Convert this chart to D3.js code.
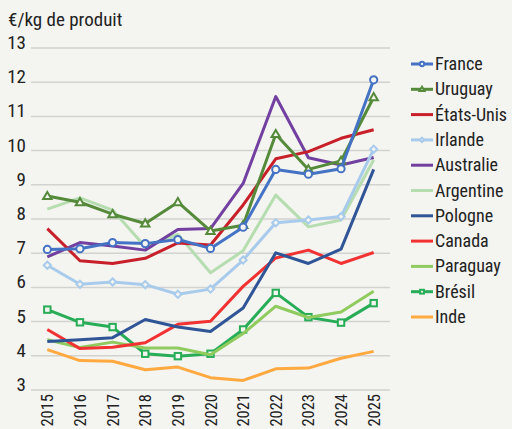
<!DOCTYPE html>
<html><head><meta charset="utf-8">
<script src="https://cdn.jsdelivr.net/npm/d3@7"></script>
<style>
html,body{margin:0;padding:0;background:#f4f4f0;}
svg{display:block;font-family:"Liberation Sans Narrow","Roboto Condensed","Arial Narrow",sans-serif;font-stretch:condensed;}
</style></head>
<body><svg id="c" width="512" height="429"></svg>
<script>
const years = ["2015","2016","2017","2018","2019","2020","2021","2022","2023","2024","2025"];
const yTicks = [3,4,5,6,7,8,9,10,11,12,13];
const unitLabel = "€/kg de produit";
const countries = ["France","Uruguay","États-Unis","Irlande","Australie","Argentine","Pologne","Canada","Paraguay","Brésil","Inde"];
const france    = [7.11,7.13,7.31,7.28,7.40,7.14,7.76,9.45,9.31,9.47,12.07];
const uruguay   = [8.67,8.49,8.14,7.87,8.49,7.65,7.82,10.48,9.45,9.70,11.56];
const etatsUnis = [7.72,6.78,6.70,6.85,7.30,7.24,8.41,9.76,9.97,10.36,10.61];
const irlande   = [6.65,6.09,6.16,6.08,5.80,5.95,6.80,7.89,7.97,8.07,10.04];
const australie = [6.89,7.31,7.21,7.09,7.69,7.72,9.04,11.58,9.79,9.58,9.80];
const argentine = [8.29,8.62,8.26,7.19,7.55,6.43,7.07,8.70,7.77,7.97,9.73];
const pologne   = [4.42,4.47,4.53,5.06,4.84,4.71,5.40,7.01,6.70,7.12,9.45];
const canada    = [4.77,4.21,4.25,4.38,4.92,5.01,6.03,6.86,7.09,6.70,7.02];
const paraguay  = [4.47,4.24,4.40,4.23,4.23,4.03,4.65,5.45,5.12,5.28,5.89];
const bresil    = [5.35,4.98,4.84,4.06,3.99,4.06,4.77,5.84,5.13,4.97,5.54];
const inde      = [4.18,3.86,3.84,3.59,3.67,3.36,3.28,3.62,3.64,3.93,4.13];
const seriesValues = [france,uruguay,etatsUnis,irlande,australie,argentine,pologne,canada,paraguay,bresil,inde];
const colors = ["#4472c4","#548a3a","#c8202a","#a8cbec","#7240a0","#b6ddb0","#2f5597","#f23232","#8fcb5e","#27ad57","#ffa940"];
const markers = ["circle","triangle",null,"diamond",null,null,null,null,null,"square",null];

const svg = d3.select("#c");
const x = d3.scalePoint().domain(years).range([31,390]).padding(0.5);
const y = d3.scaleLinear().domain([3,13]).range([390,48]);

svg.append("text").attr("x",8).attr("y",26).attr("font-size",19).attr("fill","#222").text(unitLabel);

const yAxis = svg.append("g");
yTicks.forEach(t=>{
  yAxis.append("line").attr("x1",31).attr("x2",390).attr("y1",y(t)).attr("y2",y(t))
    .attr("stroke","#d2d2d0").attr("stroke-width",1.5);
  yAxis.append("text").attr("x",26).attr("y",y(t)+1).attr("text-anchor","end")
    .attr("font-size",19).attr("fill","#222").text(t);
});

years.forEach(yr=>{
  svg.append("text").attr("transform",`translate(${x(yr)+6},394) rotate(-90)`)
    .attr("text-anchor","end").attr("font-size",16.5).attr("fill","#222").text(yr);
});

const line = d3.line().x((d,i)=>x(years[i])).y(d=>y(d));
const bg = "#f4f4f0";
function drawMarker(g, type, cx, cy, col, s){
  if(type==="circle"){
    g.append("circle").attr("cx",cx).attr("cy",cy).attr("r",3.6*s).attr("fill",bg).attr("stroke",col).attr("stroke-width",2);
  } else if(type==="triangle"){
    const r=4.2*s;
    g.append("path").attr("d",`M${cx},${cy-r}L${cx+r},${cy+r*0.7}L${cx-r},${cy+r*0.7}Z`).attr("fill",bg).attr("stroke",col).attr("stroke-width",2);
  } else if(type==="diamond"){
    const r=3.6*s;
    g.append("path").attr("d",`M${cx},${cy-r}L${cx+r},${cy}L${cx},${cy+r}L${cx-r},${cy}Z`).attr("fill",bg).attr("stroke",col).attr("stroke-width",2);
  } else if(type==="square"){
    const r=3.2*s;
    g.append("rect").attr("x",cx-r).attr("y",cy-r).attr("width",2*r).attr("height",2*r).attr("fill",bg).attr("stroke",col).attr("stroke-width",2);
  }
}

const order = d3.range(countries.length).reverse();
order.forEach(i=>{
  const g = svg.append("g");
  g.append("path").datum(seriesValues[i]).attr("d",line).attr("fill","none")
    .attr("stroke",colors[i]).attr("stroke-width",3).attr("stroke-linejoin","round");
  if(markers[i]) seriesValues[i].forEach((v,j)=>drawMarker(g,markers[i],x(years[j]),y(v),colors[i],1));
});

const lg = svg.append("g");
countries.forEach((c,i)=>{
  const ly = 64 + i*25.3;
  lg.append("line").attr("x1",411).attr("x2",433).attr("y1",ly).attr("y2",ly).attr("stroke",colors[i]).attr("stroke-width",3);
  if(markers[i]) drawMarker(lg,markers[i],422,ly,colors[i],0.6);
  lg.append("text").attr("x",435).attr("y",ly+6).attr("font-size",18).attr("fill","#222").text(c);
});
</script></body></html>
